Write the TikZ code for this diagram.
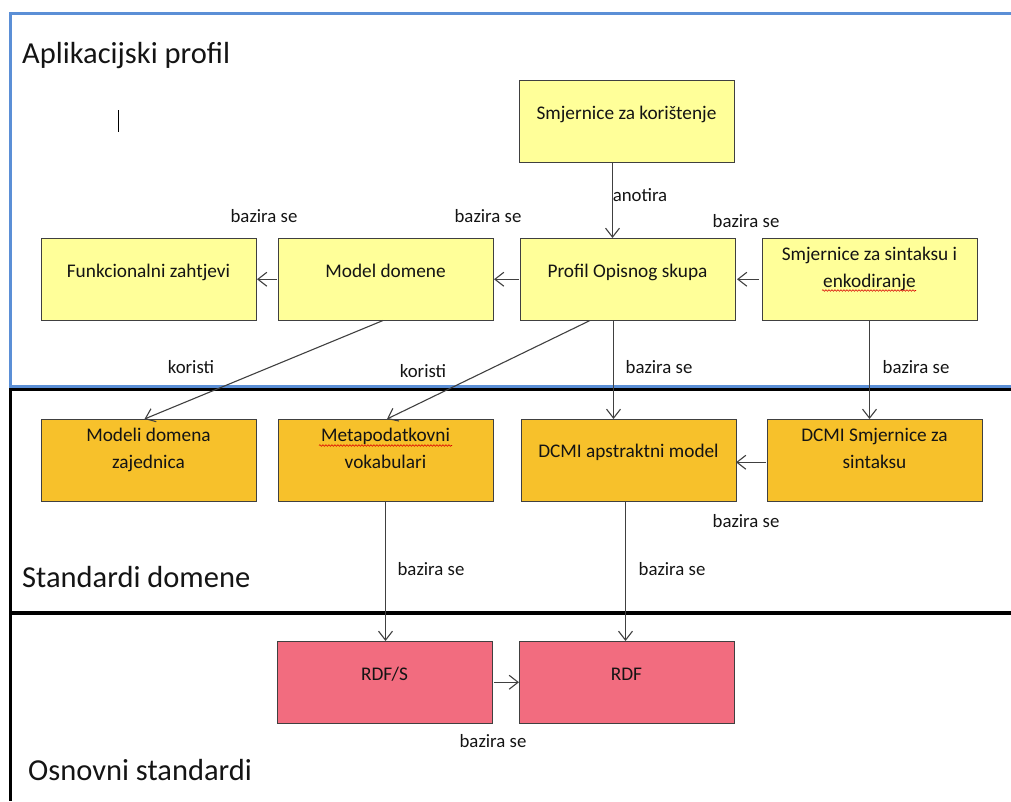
\documentclass[tikz,border=0pt]{standalone}
\usepackage{fontspec}
\setmainfont{Carlito}
\usetikzlibrary{arrows.meta,calc,decorations.pathmorphing}
\definecolor{boxy}{RGB}{255,255,153}
\definecolor{boxo}{RGB}{247,193,43}
\definecolor{boxp}{RGB}{242,108,127}
\definecolor{frameblue}{RGB}{91,143,214}
\definecolor{lineg}{RGB}{64,64,64}
\definecolor{txt}{RGB}{20,20,20}
\begin{document}
\begin{tikzpicture}[x=1pt,y=-1pt,
  box/.style={draw=lineg, line width=0.9pt, minimum width=215pt, minimum height=82.5pt,
    anchor=north west, inner sep=0pt, outer sep=0pt},
  ybox/.style={box, fill=boxy},
  obox/.style={box, fill=boxo},
  pbox/.style={box, fill=boxp},
  btxt/.style={font=\fontsize{19.3}{25.5}\selectfont, text=txt, align=center, inner sep=0pt,
    anchor=north, execute at begin node=\strut},
  btxtt/.style={font=\fontsize{19.3}{27}\selectfont, text=txt, align=center, inner sep=0pt,
    anchor=north, execute at begin node=\strut},
  lbl/.style={font=\fontsize{18.8}{22}\selectfont, text=txt, inner sep=0pt, anchor=base},
  ttl/.style={font=\fontsize{30.5}{36}\selectfont, text=txt, inner sep=0pt, anchor=base west},
  conn/.style={draw=lineg, line width=1.1pt, -{Straight Barb[length=9pt,width=14pt]}},
  squig/.style={draw=red!85!black, line width=0.6pt, decorate,
    decoration={snake, amplitude=0.8pt, segment length=3pt}}
]
\useasboundingbox (0,0) rectangle (1011,801);

% section frames
\draw[frameblue, line width=3pt] (1011,13.5) -- (10,13.5) -- (10,386.5) -- (1011,386.5);
\draw[black, line width=3.5pt] (1011,389.5) -- (10.5,389.5) -- (10.5,801);
\draw[black, line width=3.5pt] (10.5,613) -- (1011,613);

% section titles
\node[ttl] (t1) at (22,63) {Aplikacijski profil};
\node[ttl] (t2) at (22,587) {Standardi domene};
\node[ttl] (t3) at (28,780) {Osnovni standardi};

% text cursor
\draw[black, line width=1.5pt] (118.5,110) -- (118.5,132);

% boxes
\node[ybox] (skor) at (519,80) {};
\node[ybox] (fun) at (41,238) {};
\node[ybox] (mod) at (278,238) {};
\node[ybox] (prof) at (520,238) {};
\node[ybox] (sint) at (762,238) {};
\node[obox] (mzaj) at (41,419) {};
\node[obox] (meta) at (278,419) {};
\node[obox] (dcmi) at (521,419) {};
\node[obox] (dsm) at (767,419) {};
\node[pbox] (rdfs) at (277,641) {};
\node[pbox] (rdf) at (519,641) {};

% box texts
\node[btxt] (skor-t) at ([yshift=-21pt]skor.north) {Smjernice za korištenje};
\node[btxt] (fun-t) at ([yshift=-21pt]fun.north) {Funkcionalni zahtjevi};
\node[btxt] (mod-t) at ([yshift=-21pt]mod.north) {Model domene};
\node[btxt] (prof-t) at ([yshift=-21pt]prof.north) {Profil Opisnog skupa};
\node[btxtt] (sint-t) at ([yshift=-8.6pt]sint.north) {Smjernice za sintaksu i\\enkodiranje};
\node[btxtt] (mzaj-t) at ([yshift=-8.6pt]mzaj.north) {Modeli domena\\zajednica};
\node[btxtt] (meta-t) at ([yshift=-8.6pt]meta.north) {Metapodatkovni\\vokabulari};
\node[btxt] (dcmi-t) at ([yshift=-20.5pt]dcmi.north) {DCMI apstraktni model};
\node[btxtt] (dsm-t) at ([yshift=-8.6pt]dsm.north) {DCMI Smjernice za\\sintaksu};
\node[btxt] (rdfs-t) at ([yshift=-21pt]rdfs.north) {RDF/S};
\node[btxt] (rdf-t) at ([yshift=-21pt]rdf.north) {RDF};

% spell-check squiggles
\draw[squig] (822,290.5) -- (916,290.5);
\draw[squig] (319,445.5) -- (452,445.5);

% connectors
\draw[conn] ([xshift=-14pt]skor.south) -- ([xshift=-14pt]skor.south |- prof.north);
\draw[conn, shorten <=1pt, shorten >=1pt] (mod.west) -- (fun.east);
\draw[conn, shorten <=1pt, shorten >=1pt] (prof.west) -- (mod.east);
\draw[conn, shorten <=3pt, shorten >=2pt] (sint.west) -- (prof.east);
\draw[conn] ([xshift=-2.5pt]mod.south) -- ([xshift=-4pt]mzaj.north);
\draw[conn] ([xshift=-37.5pt]prof.south) -- ([xshift=1.5pt]meta.north);
\draw[conn] ([xshift=-14pt]prof.south) -- ([xshift=-14pt]prof.south |- dcmi.north);
\draw[conn] (sint.south) -- (sint.south |- dsm.north);
\draw[conn, shorten <=1pt] ([yshift=-2pt]dsm.west) -- ([yshift=-2pt]dsm.west -| dcmi.east);
\draw[conn] (meta.south) -- (meta.south |- rdfs.north);
\draw[conn] ([xshift=-3pt]dcmi.south) -- ([xshift=-3pt]dcmi.south |- rdf.north);
\draw[conn, shorten <=2pt] (rdfs.east) -- (rdf.west);

% connector labels
\node[lbl] (l-anot) at (640,201) {anotira};
\node[lbl] (l-b1) at (264,222) {bazira se};
\node[lbl] (l-b2) at (488,222) {bazira se};
\node[lbl] (l-b3) at (746,227) {bazira se};
\node[lbl] (l-k1) at (191,373) {koristi};
\node[lbl] (l-k2) at (423,377) {koristi};
\node[lbl] (l-b4) at (659,373) {bazira se};
\node[lbl] (l-b5) at (916,373) {bazira se};
\node[lbl] (l-b6) at (746,527) {bazira se};
\node[lbl] (l-b7) at (431,575) {bazira se};
\node[lbl] (l-b8) at (672,575) {bazira se};
\node[lbl] (l-b9) at (493,747) {bazira se};
\end{tikzpicture}
\end{document}
